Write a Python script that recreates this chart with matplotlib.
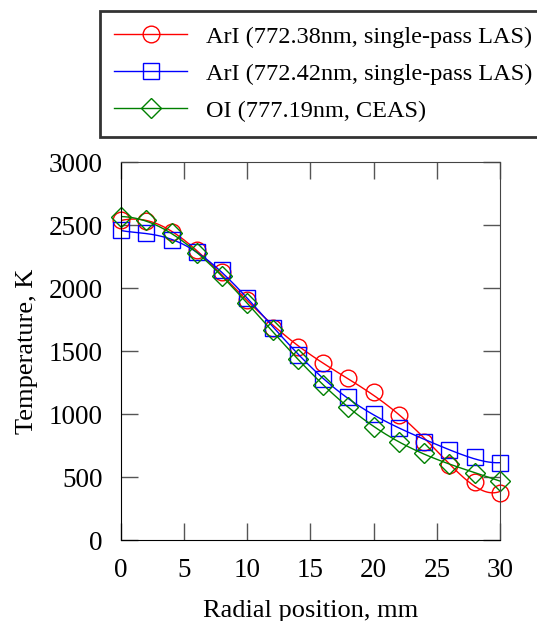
"""
Radial temperature profiles from ArI (LAS) and OI (CEAS) measurements.
"""

import matplotlib

matplotlib.use("Agg")  # headless
import matplotlib.pyplot as plt
import numpy as np

plt.rcParams["font.family"] = ["Liberation Serif", "DejaVu Serif"]

# radial position, mm
radius = [0, 2, 4, 6, 8, 10, 12, 14, 16, 18, 20, 22, 24, 26, 28, 30]

# temperature, K
ari_772_38 = [2540, 2530, 2444, 2299, 2127, 1902, 1683, 1532, 1405, 1289,
              1176, 991, 780, 594, 457, 375]
ari_772_42 = [2457, 2433, 2378, 2283, 2140, 1921, 1683, 1466, 1281, 1136,
              1004, 890, 780, 713, 660, 608]
oi_777_19 = [2565, 2536, 2433, 2275, 2093, 1878, 1665, 1435, 1228, 1052,
             898, 779, 690, 602, 529, 470]

labels = [
    "ArI (772.38nm, single-pass LAS)",
    "ArI (772.42nm, single-pass LAS)",
    "OI (777.19nm, CEAS)",
]
colors = ["#ff0000", "#0000ff", "#008000"]
markers = ["o", "s", "D"]


def main() -> None:
    fig = plt.figure(figsize=(5.37, 6.21), dpi=100)
    ax = fig.add_axes([0.2253, 0.1304, 0.7058, 0.6087])

    x = np.array(radius, dtype=float)
    xs = np.linspace(x.min(), x.max(), 200)
    handles = []
    for ys, lab, c, m in zip([ari_772_38, ari_772_42, oi_777_19], labels, colors, markers):
        ms = 12 if m != "D" else 10
        # smooth fit curve through the measured points
        coef = np.polyfit(x, ys, 6)
        ax.plot(xs, np.polyval(coef, xs), color=c, lw=1.0)
        ax.plot(x, ys, ls="none", marker=m, ms=ms,
                mfc="none", mec=c, mew=1.0, clip_on=False)
        h, = ax.plot([], [], color=c, lw=1.0, marker=m, ms=ms,
                     mfc="none", mec=c, mew=1.0)
        handles.append(h)

    ax.set_xlim(0, 30)
    ax.set_ylim(0, 3000)
    ax.set_xticks(range(0, 31, 5))
    ax.set_yticks(range(0, 3001, 500))
    ax.tick_params(direction="in", length=12, width=1.0, color="#555555",
                   top=True, right=True, labelsize=19.5, pad=13)
    for side in ["right", "top"]:
        ax.spines[side].set_color("#444444")
    ax.set_xlabel("Radial position, mm", fontsize=19, labelpad=12)
    ax.set_ylabel("Temperature, K", fontsize=19, labelpad=8)

    leg = fig.legend(handles, labels, loc="upper left",
                     bbox_to_anchor=(0.186, 0.982, 0.85, 0.0), mode="expand",
                     fontsize=17.5, frameon=True, fancybox=False, handlelength=3.0,
                     handletextpad=0.75, labelspacing=0.62, borderpad=0.6,
                     borderaxespad=0.0)
    frame = leg.get_frame()
    frame.set_edgecolor("black")
    frame.set_linewidth(2.0)

    fig.savefig("out.png", dpi=100)
    plt.close(fig)


if __name__ == "__main__":
    main()
